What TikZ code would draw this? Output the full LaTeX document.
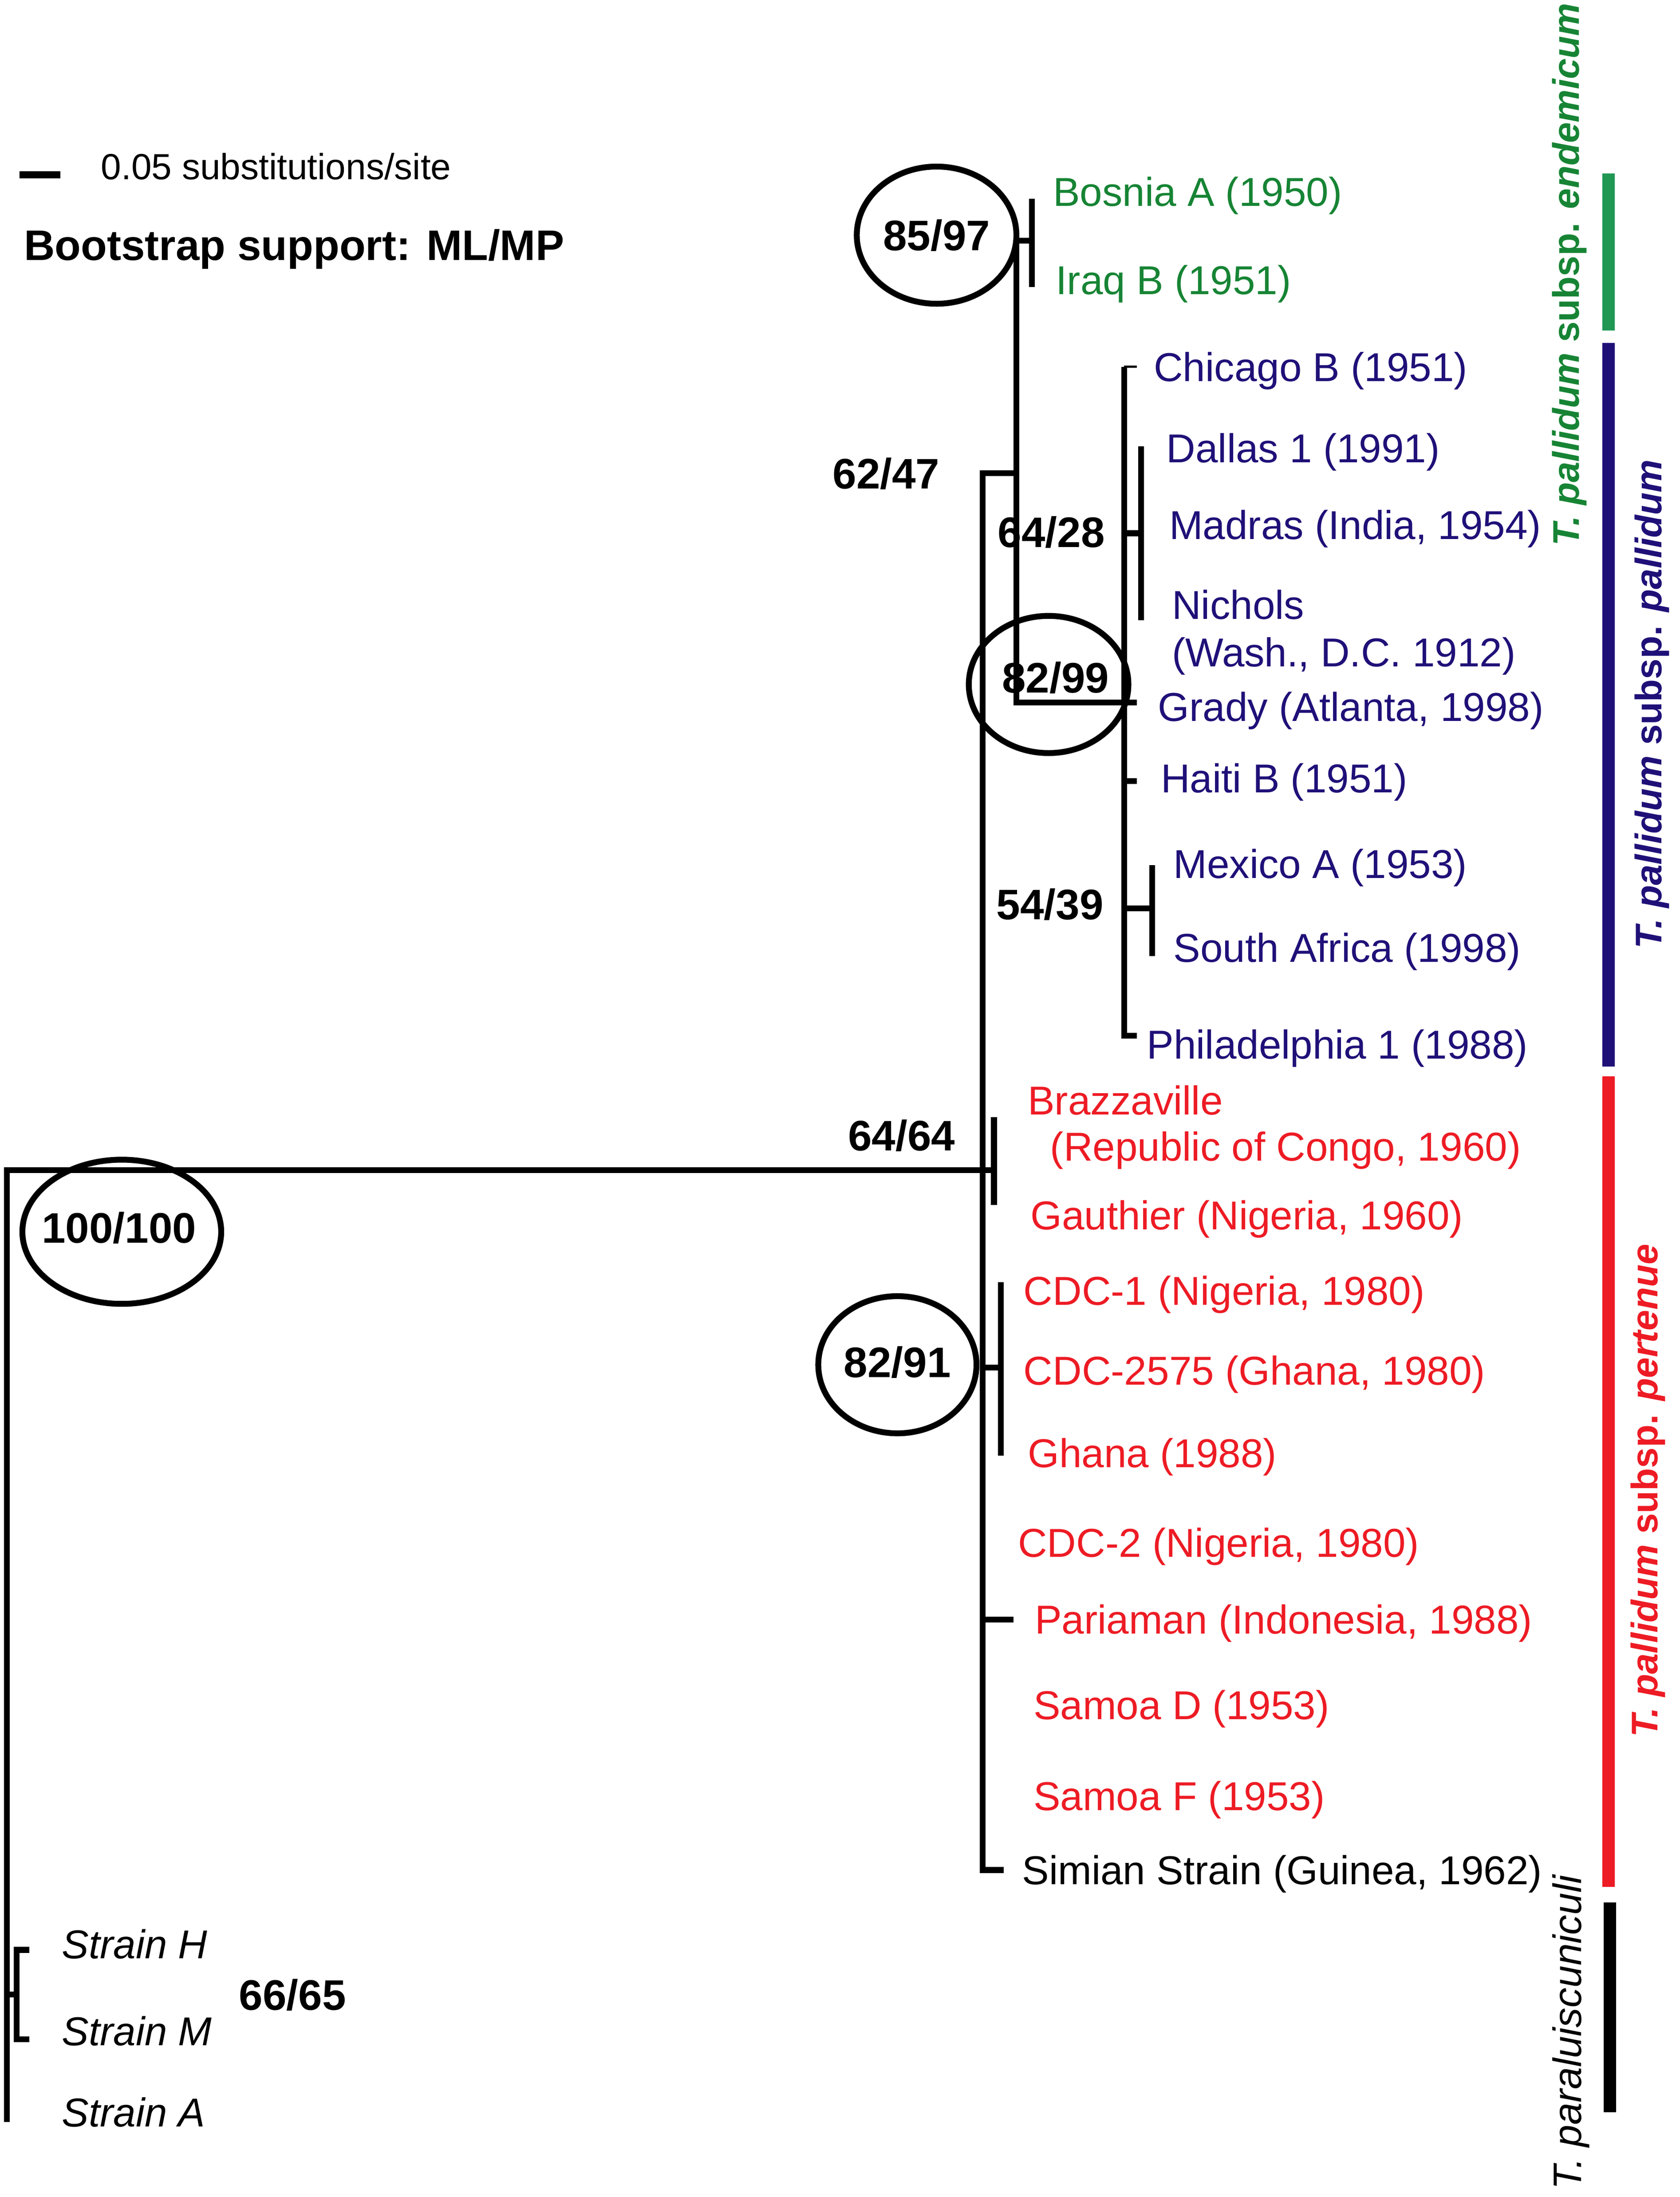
\documentclass[tikz,border=0pt]{standalone}
\usepackage{fontspec}
\setmainfont{Liberation Sans}
\usepackage{tikz}
\usetikzlibrary{shapes,positioning}

\definecolor{endemgreen}{RGB}{22,132,52}
\definecolor{endembar}{RGB}{32,152,84}
\definecolor{pallblue}{RGB}{31,16,120}
\definecolor{pertred}{RGB}{237,27,36}

\newcommand{\tipfont}{\fontsize{28.8}{32}\selectfont}
\newcommand{\bootfont}{\fontsize{30.5}{34}\selectfont\bfseries}
\newcommand{\cladefont}{\fontsize{26.5}{30}\selectfont\bfseries}

\tikzstyle{tip} = [anchor=west, inner sep=0pt, text height=20.7pt, text depth=0pt, font=\tipfont]
\tikzstyle{boot} = [inner sep=0pt, text height=22pt, text depth=0pt, font=\bootfont]
\tikzstyle{bootoval} = [boot, draw, ellipse, line width=4.2pt, minimum width=114pt, minimum height=98pt]
\tikzstyle{branch} = [line width=4.2pt]
\tikzstyle{cladebar} = [line width=9pt]
\tikzstyle{cladelabel} = [rotate=90, inner sep=0pt, font=\cladefont]

\begin{document}
\begin{tikzpicture}[x=1pt, y=-1pt]
\useasboundingbox (0,0) rectangle (1200,1569.6);

% legend
\coordinate (scaleL) at (14,125);
\coordinate (scaleR) at (43,125);
\draw[line width=5pt] (scaleL) -- (scaleR);
\node[tip, text height=18.7pt, font=\fontsize{26}{30}\selectfont] (scaletext) at (72,119) {0.05 substitutions/site};
\node[boot, anchor=west] (legend) at (17,175) {Bootstrap support: ML/MP};

% tree: inner nodes and branch ends
\coordinate (root) at (5,836);
\coordinate (rootA) at (5,1516);
\coordinate (paraN) at (5,1425);
\coordinate (paraV) at (12,1425);
\coordinate (endH) at (21,1393);
\coordinate (endM) at (21,1457);
\coordinate (main) at (702,836);
\coordinate (mtop) at (702,338);
\coordinate (mbot) at (702,1336);
\coordinate (endSim) at (717,1336);
\coordinate (n6247) at (726,338);
\coordinate (n8597) at (726,172);
\coordinate (endV) at (737,172);
\coordinate (endBos) at (737,142);
\coordinate (endIrq) at (737,205);
\coordinate (n8299) at (726,502);
\coordinate (endGrady) at (812,502);
\coordinate (palTop) at (803,262);
\coordinate (endChi) at (812,262);
\coordinate (palBot) at (803,740);
\coordinate (endPhi) at (812,740);
\coordinate (n6428) at (803,381);
\coordinate (v6428) at (815,381);
\coordinate (endDal) at (815,319);
\coordinate (endNic) at (815,443);
\coordinate (n5439) at (803,649);
\coordinate (v5439) at (823,649);
\coordinate (endMex) at (823,618);
\coordinate (endSaf) at (823,683);
\coordinate (haitiN) at (803,558);
\coordinate (endHai) at (812,558);
\coordinate (v6464) at (710,836);
\coordinate (endBra) at (710,798);
\coordinate (endGau) at (710,861);
\coordinate (n8291) at (702,977);
\coordinate (v8291) at (715,977);
\coordinate (endCdc) at (715,916);
\coordinate (endGha) at (715,1040);
\coordinate (pariN) at (702,1157);
\coordinate (endPar) at (724,1157);

\draw[branch] (main) -- (root) -- (rootA);
\draw[branch] (paraN) -- (paraV);
\draw[branch] (endH) -- (paraV |- endH) -- (paraV |- endM) -- (endM);
\draw[branch] (n6247) -- (mtop) -- (mbot) -- (endSim);
\draw[branch] (endV) -- (n8597) -- (n8299) -- (endGrady);
\draw[branch] (endBos) -- (endIrq);
\draw[line width=1.5pt] (palTop) -- (endChi);
\draw[branch] (palTop) -- (palBot) -- (endPhi);
\draw[branch] (n6428) -- (v6428);
\draw[branch] (endDal) -- (endNic);
\draw[branch] (haitiN) -- (endHai);
\draw[branch] (n5439) -- (v5439);
\draw[branch] (endMex) -- (endSaf);
\draw[branch] (main) -- (v6464);
\draw[branch] (endBra) -- (endGau);
\draw[branch] (n8291) -- (v8291);
\draw[branch] (endCdc) -- (endGha);
\draw[branch] (pariN) -- (endPar);

% bootstrap values
\node[bootoval, minimum width=142pt, minimum height=103pt] (b100) at (87,880) {};
\node[boot] (b100txt) at (85,877) {100/100};
\node[bootoval] (b8597) at (669,168) {};
\node[boot] (b8597txt) at (669,168) {85/97};
\node[bootoval] (b8299) at (749,489) {};
\node[boot] (b8299txt) at (754,484) {82/99};
\node[bootoval, minimum width=113pt] (b8291) at (641,975) {};
\node[boot] (b8291txt) at (641,973) {82/91};
\node[boot] (b6247) at (633,338) {62/47};
\node[boot] (b6428) at (751,380) {64/28};
\node[boot] (b5439) at (750,646) {54/39};
\node[boot] (b6464) at (644,811) {64/64};
\node[boot] (b6665) at (209,1425) {66/65};

% tips
\node[tip, text=endemgreen] (bosnia) at (752,137) {Bosnia A (1950)};
\node[tip, text=endemgreen] (iraq) at (754,200) {Iraq B (1951)};
\node[tip, text=pallblue] (chicago) at (824,262) {Chicago B (1951)};
\node[tip, text=pallblue] (dallas) at (833,320) {Dallas 1 (1991)};
\node[tip, text=pallblue] (madras) at (835,375) {Madras (India, 1954)};
\node[tip, text=pallblue] (nichols) at (837,432) {Nichols};
\node[tip, text=pallblue] (wash) at (837,466) {(Wash., D.C. 1912)};
\node[tip, text=pallblue] (grady) at (827,505) {Grady (Atlanta, 1998)};
\node[tip, text=pallblue] (haiti) at (829,556) {Haiti B (1951)};
\node[tip, text=pallblue] (mexico) at (838,617) {Mexico A (1953)};
\node[tip, text=pallblue] (safrica) at (838,677) {South Africa (1998)};
\node[tip, text=pallblue] (phila) at (819,746) {Philadelphia 1 (1988)};
\node[tip, text=pertred] (brazza) at (734,786) {Brazzaville};
\node[tip, text=pertred] (congo) at (750,819) {(Republic of Congo, 1960)};
\node[tip, text=pertred] (gauthier) at (736,868) {Gauthier (Nigeria, 1960)};
\node[tip, text=pertred] (cdc1) at (731,922) {CDC-1 (Nigeria, 1980)};
\node[tip, text=pertred] (cdc2575) at (731,979) {CDC-2575 (Ghana, 1980)};
\node[tip, text=pertred] (ghana) at (734,1038) {Ghana (1988)};
\node[tip, text=pertred] (cdc2) at (727,1102) {CDC-2 (Nigeria, 1980)};
\node[tip, text=pertred] (pariaman) at (739,1157) {Pariaman (Indonesia, 1988)};
\node[tip, text=pertred] (samoad) at (738,1218) {Samoa D (1953)};
\node[tip, text=pertred] (samoaf) at (738,1283) {Samoa F (1953)};
\node[tip] (simian) at (730,1336) {Simian Strain (Guinea, 1962)};
\node[tip, font=\tipfont\itshape] (strainh) at (44,1389) {Strain H};
\node[tip, font=\tipfont\itshape] (strainm) at (44,1451) {Strain M};
\node[tip, font=\tipfont\itshape] (straina) at (44,1509) {Strain A};

% clade bars
\coordinate (endemTop) at (1149,124);
\coordinate (endemBot) at (1149,236);
\coordinate (pallTop) at (1149,245);
\coordinate (pallBot) at (1149,762);
\coordinate (pertTop) at (1149,769);
\coordinate (pertBot) at (1149,1348);
\coordinate (paraTop) at (1150,1359);
\coordinate (paraBot) at (1150,1509);
\draw[cladebar, endembar] (endemTop) -- (endemBot);
\draw[cladebar, pallblue] (pallTop) -- (pallBot);
\draw[cladebar, pertred] (pertTop) -- (pertBot);
\draw[cladebar, black] (paraTop) -- (paraBot);

\node[cladelabel, text=endemgreen] (endemlab) at (1121,196) {{\itshape T. pallidum} subsp. {\itshape endemicum}};
\node[cladelabel, text=pallblue] (palllab) at (1180,503) {{\itshape T. pallidum} subsp. {\itshape pallidum}};
\node[cladelabel, text=pertred] (pertlab) at (1177,1065) {{\itshape T. pallidum} subsp. {\itshape pertenue}};
\node[cladelabel, font=\fontsize{28.4}{32}\selectfont\itshape] (paralab) at (1122,1452) {T. paraluiscuniculi};

\end{tikzpicture}
\end{document}
